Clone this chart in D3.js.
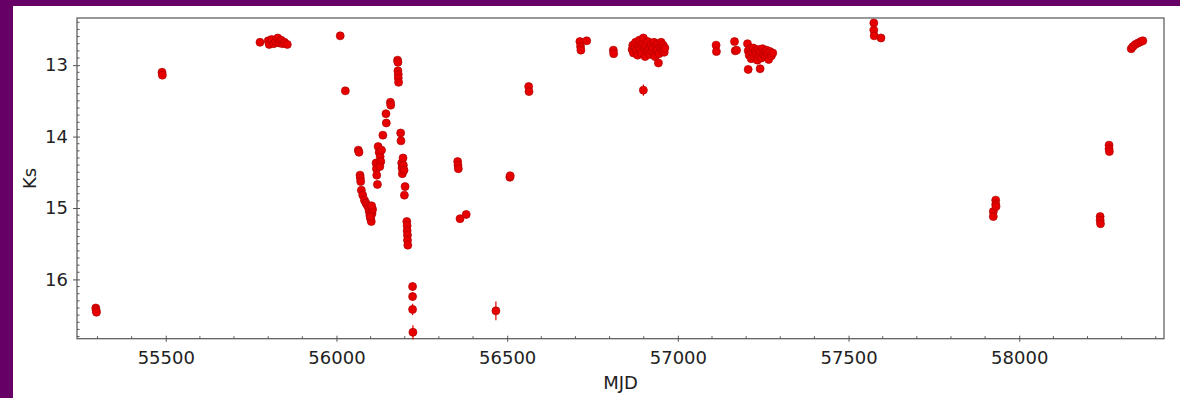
<!DOCTYPE html>
<html><head><meta charset="utf-8">
<script src="https://cdn.jsdelivr.net/npm/d3@7"></script>
<style>
html,body{margin:0;padding:0;background:#660066;}
svg{display:block;}
</style></head>
<body>
<script>
// Observations: [MJD, Ks, Ks error]
const obs2010 = [[55295,16.40,0.03],[55296,16.43,0.03],[55297,16.46,0.03],[55489,13.10,0.02],[55490,13.14,0.02]];
const obs2011 = [[55776,12.68,0.02],[55800,12.66,0.02],[55803,12.71,0.02],[55810,12.64,0.02],[55816,12.70,0.02],[55822,12.67,0.02],
  [55828,12.62,0.02],[55832,12.69,0.02],[55838,12.65,0.02],[55842,12.70,0.02],[55848,12.68,0.02],[55856,12.71,0.02]];
const obs2012 = [[56011,12.59,0.02],[56026,13.36,0.02],[56064,14.19,0.02],[56066,14.22,0.02],
  [56069,14.54,0.02],[56070,14.58,0.02],[56071,14.63,0.02],[56073,14.75,0.02],[56077,14.82,0.02],[56082,14.89,0.02],[56086,14.93,0.02],
  [56090,14.96,0.02],[56094,15.00,0.02],[56096,15.05,0.02],[56098,15.10,0.02],[56100,15.15,0.02],[56102,15.19,0.02],[56104,15.08,0.02],
  [56106,15.02,0.02],[56103,14.97,0.02],[56099,15.12,0.02],
  [56116,14.37,0.02],[56117,14.45,0.02],[56118,14.54,0.02],[56120,14.67,0.02],
  [56122,14.14,0.02],[56125,14.22,0.02],[56128,14.28,0.02],[56130,14.35,0.02],[56132,14.19,0.02],[56127,14.42,0.02],
  [56136,13.98,0.02],[56145,13.68,0.02],[56146,13.81,0.02],[56158,13.52,0.02],[56159,13.56,0.02],
  [56179,12.93,0.02],[56180,12.96,0.02],[56180,13.08,0.02],[56181,13.13,0.02],[56181,13.18,0.02],[56182,13.24,0.02],
  [56188,13.95,0.02],[56189,14.06,0.02],
  [56191,14.37,0.02],[56192,14.44,0.02],[56193,14.52,0.02],[56195,14.30,0.02],[56196,14.40,0.02],[56198,14.47,0.02],
  [56201,14.70,0.02],[56199,14.82,0.02],
  [56206,15.19,0.02],[56207,15.25,0.02],[56207,15.32,0.02],[56208,15.38,0.02],[56208,15.45,0.02],[56209,15.52,0.02],
  [56223,16.10,0.06],[56223,16.24,0.06],[56223,16.42,0.08],[56224,16.74,0.10]];
const obs2013 = [[56355,14.35,0.02],[56356,14.40,0.02],[56357,14.45,0.02],[56362,15.15,0.02],[56380,15.09,0.02],
  [56467,16.44,0.13],[56508,14.57,0.02],[56509,14.55,0.02],[56563,13.30,0.02],[56564,13.37,0.02]];
const obs2014 = [[56713,12.67,0.02],[56715,12.74,0.02],[56716,12.79,0.02],[56733,12.66,0.02],[56811,12.79,0.02],[56812,12.84,0.02],
  [56899,13.35,0.08],
  [56866,12.78,0.02],[56868,12.72,0.02],[56870,12.83,0.02],[56874,12.75,0.02],[56876,12.68,0.02],[56879,12.80,0.02],[56882,12.86,0.02],
  [56885,12.72,0.02],[56887,12.65,0.02],[56890,12.77,0.02],[56893,12.83,0.02],[56896,12.70,0.02],[56899,12.62,0.02],[56901,12.76,0.02],
  [56904,12.88,0.02],[56906,12.73,0.02],[56909,12.81,0.02],[56912,12.67,0.02],[56915,12.78,0.02],[56918,12.85,0.02],[56921,12.71,0.02],
  [56924,12.80,0.02],[56927,12.75,0.02],[56930,12.68,0.02],[56933,12.88,0.02],[56936,12.73,0.02],[56939,12.79,0.02],[56942,12.70,0.02],
  [56945,12.84,0.02],[56948,12.75,0.02],[56951,12.68,0.02],[56954,12.79,0.02],[56957,12.72,0.02],[56960,12.82,0.02],[56943,12.97,0.02],
  [56962,12.76,0.02]];
const obs2015 = [[57112,12.72,0.02],[57113,12.81,0.02],[57166,12.67,0.02],[57168,12.80,0.02],[57172,12.79,0.02],
  [57204,12.70,0.02],[57206,12.80,0.02],[57209,12.86,0.02],[57212,12.77,0.02],[57215,12.91,0.02],[57218,12.82,0.02],[57221,12.76,0.02],
  [57224,12.88,0.02],[57227,12.80,0.02],[57230,12.84,0.02],[57233,12.93,0.02],[57236,12.78,0.02],[57239,12.86,0.02],[57242,12.81,0.02],
  [57245,12.90,0.02],[57248,12.77,0.02],[57251,12.85,0.02],[57254,12.82,0.02],[57257,12.88,0.02],[57260,12.79,0.02],[57263,12.84,0.02],
  [57266,12.92,0.02],[57270,12.81,0.02],[57274,12.87,0.02],[57278,12.83,0.02],[57206,13.06,0.02],[57241,13.05,0.02]];
const obs2016 = [[57574,12.41,0.02],[57574,12.51,0.02],[57575,12.59,0.02],[57595,12.62,0.02]];
const obs2017 = [[57924,15.05,0.02],[57924,15.12,0.02],[57931,14.89,0.02],[57931,14.95,0.02],[57932,14.98,0.02]];
const obs2018 = [[58237,15.12,0.02],[58237,15.17,0.02],[58238,15.22,0.02],[58263,14.12,0.02],[58263,14.17,0.02],[58264,14.21,0.02],
  [58328,12.77,0.02],[58333,12.74,0.02],[58340,12.71,0.02],[58348,12.69,0.02],[58356,12.67,0.02],[58362,12.66,0.02]];

const xTicks = [55500, 56000, 56500, 57000, 57500, 58000];
const yTicks = [13, 14, 15, 16];
const xLabel = "MJD";
const yLabel = "Ks";

const data = [].concat(obs2010, obs2011, obs2012, obs2013, obs2014, obs2015, obs2016, obs2017, obs2018);

const W = 1180, H = 398;
const L = 77, R = 1164, T = 18, B = 338.7;
const svg = d3.select("body").append("svg").attr("width", W).attr("height", H);
svg.append("rect").attr("x", 13).attr("y", 6).attr("width", W - 13).attr("height", H - 6).attr("fill", "#fff");

const x = d3.scaleLinear().domain([55240, 58424]).range([L, R]);
const y = d3.scaleLinear().domain([12.34, 16.83]).range([T, B]);

const font = "'DejaVu Sans', sans-serif";
const axisColor = "#555";

// minor ticks
const xMinor = d3.range(55300, 58424, 100).filter(v => v % 500 !== 0);
const yMinor = d3.range(124, 169).map(v => v / 10).filter(v => Math.abs(v - Math.round(v)) > 1e-6);

const g = svg.append("g");
g.selectAll(".xmin").data(xMinor).join("line")
  .attr("x1", d => x(d)).attr("x2", d => x(d)).attr("y1", B).attr("y2", B - 2.5)
  .attr("stroke", axisColor).attr("stroke-width", 1);
g.selectAll(".ymin").data(yMinor).join("line")
  .attr("y1", d => y(d)).attr("y2", d => y(d)).attr("x1", L).attr("x2", L + 2.5)
  .attr("stroke", axisColor).attr("stroke-width", 1);

// major axes
const xAxis = d3.axisBottom(x).tickValues(xTicks).tickFormat(d3.format("d")).tickSizeInner(4).tickSizeOuter(0).tickPadding(9);
const yAxis = d3.axisLeft(y).tickValues(yTicks).tickFormat(d3.format("d")).tickSizeInner(4).tickSizeOuter(0).tickPadding(5);
const gx = svg.append("g").attr("transform", `translate(0,${B})`).call(xAxis);
const gy = svg.append("g").attr("transform", `translate(${L},0)`).call(yAxis);
[gx, gy].forEach(a => {
  a.select(".domain").remove();
  a.selectAll("line").attr("stroke", axisColor);
  a.selectAll("text").attr("font-family", font).attr("font-size", 18).attr("fill", "#222");
});
gx.selectAll(".tick line").attr("y1", -3).attr("y2", 3);
gy.selectAll(".tick line").attr("x1", 3).attr("x2", -4);

// frame
svg.append("rect").attr("x", L).attr("y", T).attr("width", R - L).attr("height", B - T)
  .attr("fill", "none").attr("stroke", axisColor).attr("stroke-width", 1.2);

// axis labels
svg.append("text").attr("x", (L + R) / 2).attr("y", 389).attr("text-anchor", "middle")
  .attr("font-family", font).attr("font-size", 18).attr("fill", "#222").text(xLabel);
svg.append("text").attr("transform", `translate(36,${(T + B) / 2}) rotate(-90)`).attr("text-anchor", "middle")
  .attr("font-family", font).attr("font-size", 18).attr("fill", "#222").text(yLabel);

// error bars
const pts = svg.append("g");
pts.selectAll(".err").data(data).join("line")
  .attr("x1", d => x(d[0])).attr("x2", d => x(d[0]))
  .attr("y1", d => y(d[1] - d[2])).attr("y2", d => y(d[1] + d[2]))
  .attr("stroke", "#e00000").attr("stroke-width", 1.2);
// points
pts.selectAll(".pt").data(data).join("circle")
  .attr("cx", d => x(d[0])).attr("cy", d => y(d[1])).attr("r", 4)
  .attr("fill", "#e60000").attr("stroke", "#b00000").attr("stroke-width", 0.7);
</script>
</body></html>
